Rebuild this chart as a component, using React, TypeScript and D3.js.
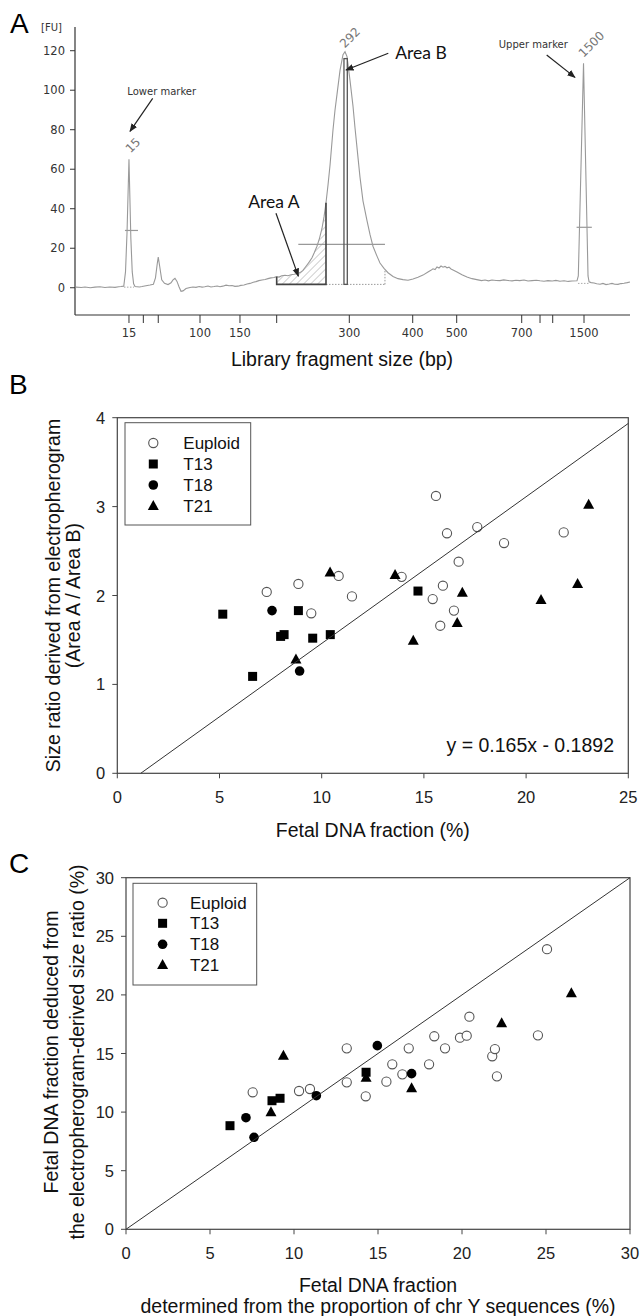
import React from 'react';
import * as d3 from 'd3';

// ---------- Panel A: electropherogram (x in migration time, s) ----------
const ladderBp = [15, 25, 50, 100, 150, 200, 300, 400, 500, 700, 850, 1000, 1500];
const ladderTime = [45.78, 47.85, 50.0, 56.02, 61.78, 67.07, 77.54, 86.68, 93.02, 102.39, 105.03, 106.86, 111.37];
const ladderLabeled = [true, false, false, true, true, false, true, true, true, true, false, false, true];
const fuTicks = [0, 20, 40, 60, 80, 100, 120];

const traceTime = [
  38.14, 38.9, 39.44, 40.2, 40.88, 41.6, 42.32, 43.0, 43.77, 44.3, 44.63, 45.03, 45.28, 45.5, 45.78, 46.05, 46.25, 46.45, 46.65, 46.94,
  47.3, 47.66, 48.23, 48.81, 49.3, 49.6, 49.85, 50.0, 50.2, 50.5, 50.9, 51.41, 51.84, 52.13, 52.41, 52.7, 52.99, 53.28, 53.57, 54.0,
  54.58, 55.0, 55.44, 55.9, 56.31, 56.7, 57.17, 57.6, 58.04, 58.5, 58.9, 59.3, 59.77, 60.2, 60.63, 61.05, 61.5, 61.9, 62.36, 62.8,
  63.23, 63.7, 64.09, 64.5, 64.95, 65.4, 65.82, 66.25, 66.68, 67.07, 67.41, 67.8, 68.27, 68.7, 69.14, 69.6, 70.14, 70.5, 70.86, 71.44,
  71.8, 72.16, 72.5, 72.88, 73.24, 73.6, 73.9, 74.18, 74.47, 74.76, 75.19, 75.48, 75.77, 76.2, 76.63, 76.92, 77.21, 77.64, 78.07, 78.36,
  78.79, 79.08, 79.51, 80.09, 80.52, 80.95, 81.53, 81.96, 82.54, 83.12, 83.84, 84.56, 85.28, 86.0, 86.72, 87.44, 88.16, 88.88, 89.3, 89.6,
  89.9, 90.18, 90.47, 90.76, 91.05, 91.33, 91.62, 91.91, 92.2, 92.49, 93.06, 93.78, 94.5, 95.23, 96.09, 96.6, 97.1, 97.6, 98.11, 98.7,
  99.26, 99.8, 100.41, 101.0, 101.57, 102.1, 102.72, 103.3, 103.88, 104.5, 105.03, 105.6, 106.18, 106.8, 107.33, 107.9, 108.49, 109.1, 109.64, 110.36,
  110.55, 111.3, 111.95, 112.1, 112.4, 112.81, 113.2, 113.68, 114.1, 114.54, 115.0, 115.41, 115.8, 116.27, 116.7, 117.14, 117.6, 118.0,
];
const traceFU = [
  0.3, 0.1, 0.4, 0.0, 0.3, 0.5, 0.1, 0.4, 0.2, 0.5, 0.6, 0.8, 8, 28, 65, 25, 8, 2, 0.6, 0.5,
  0.4, 0.6, 1.0, 1.4, 1.8, 5, 12, 15.5, 11, 4, 2.2, 1.6, 2.5, 4.0, 4.8, 3.2, 0.5, -1.8, -1.6, -0.4,
  0.1, 0.4, 0.2, 0.6, 0.3, 0.5, 0.9, 0.4, 0.6, 0.9, 0.5, 0.8, 1.3, 1.0, 1.1, 0.7, 0.8, 1.2, 1.4, 1.9,
  2.2, 2.8, 3.1, 3.6, 3.9, 4.2, 4.6, 5.0, 5.2, 5.6, 5.4, 6.1, 6.3, 6.1, 6.6, 6.8, 7.2, 7.8, 8.8, 11.5,
  13.2, 15.2, 17.8, 21, 25, 30, 36, 43, 52, 62, 80, 90, 98, 110, 118, 119.5, 117, 105, 92, 81,
  66, 56, 44, 34, 27, 21, 16, 12.5, 9.8, 7.6, 5.7, 4.6, 4.1, 3.8, 4.4, 5.3, 6.4, 8.0, 8.8, 9.6,
  9.2, 10.5, 10.0, 11.0, 10.4, 10.8, 10.1, 10.4, 9.5, 9.0, 8.0, 6.6, 5.4, 4.6, 4.0, 3.6, 3.9, 3.5, 3.9, 3.7,
  3.6, 4.0, 3.7, 3.5, 3.8, 3.6, 3.9, 3.4, 3.6, 3.8, 3.5, 3.3, 3.6, 3.4, 3.7, 3.3, 3.5, 3.2, 3.4, 3.5,
  6, 113.6, 6, 3.0, 2.6, 2.4, 2.0, 1.8, 2.2, 1.6, 1.9, 2.2, 1.8, 1.7, 2.1, 2.3, 2.6, 2.9,
];

// ---------- Panel B: size ratio vs fetal DNA fraction ----------
const bEuploid: [number, number][] = [
  [7.31, 2.04], [8.86, 2.13], [10.83, 2.22], [11.48, 1.99], [9.49, 1.80], [15.59, 3.12], [16.13, 2.70], [17.61, 2.77],
  [18.92, 2.59], [21.84, 2.71], [16.7, 2.38], [13.91, 2.21], [15.93, 2.11], [15.43, 1.96], [16.47, 1.83], [15.8, 1.66],
];
const bT13: [number, number][] = [
  [5.16, 1.79], [8.86, 1.83], [7.99, 1.54], [8.16, 1.56], [9.56, 1.52], [10.42, 1.56], [6.62, 1.09], [14.71, 2.05],
];
const bT18: [number, number][] = [[7.57, 1.83], [8.92, 1.15]];
const bT21: [number, number][] = [
  [10.41, 2.26], [8.74, 1.28], [13.59, 2.23], [16.88, 2.03], [16.63, 1.69], [14.48, 1.49], [20.73, 1.95], [22.52, 2.13], [23.06, 3.02],
];
const bSlope = 0.165;
const bIntercept = -0.1892;
const bXTicks = [0, 5, 10, 15, 20, 25];
const bYTicks = [0, 1, 2, 3, 4];

// ---------- Panel C: deduced vs chrY fetal fraction ----------
const cEuploid: [number, number][] = [
  [7.54, 11.69], [10.3, 11.8], [10.95, 11.97], [13.14, 15.44], [13.14, 12.54], [14.27, 11.35], [15.5, 12.6], [15.85, 14.08],
  [16.45, 13.22], [16.83, 15.44], [18.04, 14.08], [18.35, 16.47], [18.99, 15.44], [19.88, 16.35], [20.28, 16.52], [20.44, 18.14],
  [21.8, 14.76], [21.96, 15.38], [22.08, 13.05], [24.52, 16.55], [25.06, 23.9],
];
const cT13: [number, number][] = [[6.19, 8.84], [8.69, 10.97], [9.17, 11.18], [14.29, 13.4]];
const cT18: [number, number][] = [[7.14, 9.52], [7.62, 7.85], [11.33, 11.4], [14.96, 15.67], [17.0, 13.28]];
const cT21: [number, number][] = [[8.63, 9.98], [9.37, 14.81], [14.29, 12.94], [17.0, 12.03], [22.36, 17.58], [26.51, 20.14]];
const cTicks = [0, 5, 10, 15, 20, 25, 30];

const groups = ['Euploid', 'T13', 'T18', 'T21'];

const SANS = '"Liberation Sans", Arial, sans-serif';
const DV = '"DejaVu Sans", Verdana, sans-serif';

function Marker({ kind, x, y }: { kind: string; x: number; y: number }) {
  if (kind === 'Euploid') return <circle cx={x} cy={y} r={4.6} fill="#fff" stroke="#555" strokeWidth={1.1} />;
  if (kind === 'T13') return <rect x={x - 4.5} y={y - 4.5} width={9} height={9} fill="#000" />;
  if (kind === 'T18') return <circle cx={x} cy={y} r={4.8} fill="#000" />;
  return <path d={`M${x},${y - 6}L${x + 5.5},${y + 4}L${x - 5.5},${y + 4}Z`} fill="#000" />;
}

function Scatter({
  xs, ys, xTicks, yTicks, data, legend,
}: {
  xs: d3.ScaleLinear<number, number>; ys: d3.ScaleLinear<number, number>;
  xTicks: number[]; yTicks: number[]; data: [string, [number, number][]][];
  legend: { x0: number; y0: number; x1: number; y1: number; sx: number; tx: number; rows: number[] };
}) {
  const [x0, x1] = xs.range();
  const [yb, yt] = ys.range();
  return (
    <g>
      <rect x={x0} y={yt} width={x1 - x0} height={yb - yt} fill="none" stroke="#444" strokeWidth={1.2} />
      {xTicks.map((t) => (
        <g key={'x' + t}>
          <line x1={xs(t)} x2={xs(t)} y1={yb} y2={yb + 5} stroke="#444" />
          <text x={xs(t)} y={yb + 30} textAnchor="middle" fontSize={16.5} fontFamily={SANS} fill="#222">{t}</text>
        </g>
      ))}
      {yTicks.map((t) => (
        <g key={'y' + t}>
          <line x1={x0 - 5} x2={x0} y1={ys(t)} y2={ys(t)} stroke="#444" />
          <text x={x0 - 12} y={ys(t) + 6} textAnchor="end" fontSize={16.5} fontFamily={SANS} fill="#222">{t}</text>
        </g>
      ))}
      <rect x={legend.x0} y={legend.y0} width={legend.x1 - legend.x0} height={legend.y1 - legend.y0} fill="#fff" stroke="#555" strokeWidth={1} />
      {groups.map((g, i) => (
        <g key={g}>
          <Marker kind={g} x={legend.sx} y={legend.rows[i]} />
          <text x={legend.tx} y={legend.rows[i] + 6} fontSize={17} fontFamily={SANS} fill="#111">{g}</text>
        </g>
      ))}
      {data.map(([g, pts]) => pts.map((p, i) => <Marker key={g + i} kind={g} x={xs(p[0])} y={ys(p[1])} />))}
    </g>
  );
}

export default function App() {
  // Panel A scales
  const xA = d3.scaleLinear().domain([38, 118]).range([75, 630]);
  const yA = d3.scaleLinear().domain([-13.8, 132]).range([315, 27]);
  const fuAt = d3.scaleLinear().domain(traceTime).range(traceFU);
  const trace = d3.line<number>().x((t) => xA(t)).y((t, i) => yA(traceFU[i]))(traceTime) || '';

  const aStart = 67.07, aEnd = 74.18, baseA = 1.7;
  const areaTimes = [aStart, ...traceTime.filter((t) => t > aStart && t < aEnd), aEnd];
  const areaPath = d3.area<number>().x((t) => xA(t)).y0(yA(baseA)).y1((t) => yA(fuAt(t)))(areaTimes) || '';
  const bL = 76.77, bR = 77.25, bTop = 116;
  const halfEnd = 82.68;

  // Panel B scales
  const xB = d3.scaleLinear().domain([0, 25]).range([117.3, 628.3]);
  const yB = d3.scaleLinear().domain([0, 4]).range([773.3, 417.7]);
  const bX0 = -bIntercept / bSlope;
  // Panel C scales
  const xC = d3.scaleLinear().domain([0, 30]).range([126, 630]);
  const yC = d3.scaleLinear().domain([0, 30]).range([1229.3, 877.7]);

  const arrow = (x1: number, y1: number, x2: number, y2: number, key: string) => (
    <line key={key} x1={xA(x1)} y1={yA(y1)} x2={xA(x2)} y2={yA(y2)} stroke="#222" strokeWidth={1.2} markerEnd="url(#ah)" />
  );

  return (
    <svg width={640} height={1316} style={{ position: 'absolute', left: 0, top: 0, background: '#fff' }}>
      <defs>
        <marker id="ah" viewBox="0 0 10 10" refX="9" refY="5" markerWidth="7" markerHeight="7" orient="auto-start-reverse">
          <path d="M0,1L10,5L0,9Z" fill="#222" />
        </marker>
        <pattern id="hatch" width={5} height={5} patternUnits="userSpaceOnUse" patternTransform="rotate(45)">
          <line x1={0} y1={0} x2={0} y2={5} stroke="#888" strokeWidth={0.8} />
        </pattern>
      </defs>
      <rect width={640} height={1316} fill="#fff" />

      {/* ===== Panel A ===== */}
      <text x={10} y={33} fontSize={28} fontFamily={SANS} fill="#000">A</text>
      <text x={41} y={31} fontSize={10} fontFamily={DV} fill="#333">[FU]</text>
      <line x1={75} x2={75} y1={27} y2={315} stroke="#333" strokeWidth={1.2} />
      <line x1={75} x2={630} y1={315} y2={315} stroke="#333" strokeWidth={1.2} />
      {fuTicks.map((t) => (
        <g key={'fa' + t}>
          <line x1={70} x2={75} y1={yA(t)} y2={yA(t)} stroke="#333" />
          <text x={65} y={yA(t) + 4} textAnchor="end" fontSize={11.5} fontFamily={DV} fill="#333">{t}</text>
        </g>
      ))}
      {ladderBp.map((bp, i) => (
        <g key={'la' + bp}>
          <line x1={xA(ladderTime[i])} x2={xA(ladderTime[i])} y1={315} y2={323} stroke="#333" />
          {ladderLabeled[i] && (
            <text x={xA(ladderTime[i])} y={337} textAnchor="middle" fontSize={11.5} fontFamily={DV} fill="#333">{bp}</text>
          )}
        </g>
      ))}
      <text x={342} y={366} textAnchor="middle" fontSize={19.5} fontFamily={SANS} fill="#111">Library fragment size (bp)</text>

      {/* Area A hatch */}
      <path d={areaPath} fill="url(#hatch)" stroke="none" />
      {/* guides */}
      <line x1={xA(aEnd)} x2={xA(halfEnd)} y1={yA(baseA)} y2={yA(baseA)} stroke="#999" strokeDasharray="1.5,1.5" />
      <line x1={xA(halfEnd)} x2={xA(halfEnd)} y1={yA(baseA)} y2={yA(fuAt(halfEnd))} stroke="#999" strokeDasharray="1.5,1.5" />
      <line x1={xA(70.19)} x2={xA(halfEnd)} y1={yA(22)} y2={yA(22)} stroke="#999" strokeWidth={1.3} />
      <line x1={xA(45.2)} x2={xA(47.08)} y1={yA(29)} y2={yA(29)} stroke="#999" strokeWidth={1.2} />
      <line x1={xA(45.06)} x2={xA(46.5)} y1={yA(0.3)} y2={yA(0.3)} stroke="#aaa" strokeDasharray="1.5,1.5" />
      <line x1={xA(110.3)} x2={xA(112.5)} y1={yA(30.6)} y2={yA(30.6)} stroke="#999" strokeWidth={1.2} />
      <line x1={xA(110.5)} x2={xA(112.2)} y1={yA(2.2)} y2={yA(2.2)} stroke="#aaa" strokeDasharray="1.5,1.5" />

      <path d={trace} fill="none" stroke="#999" strokeWidth={1.1} />

      {/* Area A box */}
      <path
        d={`M${xA(aStart)},${yA(fuAt(aStart))}L${xA(aStart)},${yA(baseA)}L${xA(aEnd)},${yA(baseA)}L${xA(aEnd)},${yA(fuAt(aEnd))}`}
        fill="none" stroke="#444" strokeWidth={1.6}
      />
      {/* Area B */}
      <rect x={xA(bL)} y={yA(bTop)} width={xA(bR) - xA(bL)} height={yA(baseA) - yA(bTop)} fill="none" stroke="#555" strokeWidth={1.3} />

      {/* peak labels */}
      <text transform={`translate(${xA(45.78) + 4},${yA(65) - 14}) rotate(-45)`} textAnchor="middle" dominantBaseline="central" fontSize={12} fontFamily={DV} fill="#777">15</text>
      <text transform={`translate(${xA(76.92) + 5},${yA(119.5) - 14}) rotate(-45)`} textAnchor="middle" dominantBaseline="central" fontSize={12} fontFamily={DV} fill="#777">292</text>
      <text transform={`translate(${xA(111.3) + 8},${yA(113.6) - 19}) rotate(-45)`} textAnchor="middle" dominantBaseline="central" fontSize={12} fontFamily={DV} fill="#777">1500</text>

      {/* annotations */}
      <text x={xA(50.5)} y={yA(99.7) + 4} textAnchor="middle" fontSize={10} fontFamily={DV} fill="#333">Lower marker</text>
      {arrow(49.2, 95.9, 45.93, 79.2, 'a1')}
      <text x={xA(104.06)} y={yA(123.4) + 4} textAnchor="middle" fontSize={10} fontFamily={DV} fill="#333">Upper marker</text>
      {arrow(105.99, 117.8, 110.07, 106.5, 'a2')}
      <text x={xA(66.68)} y={yA(43.5) + 6} textAnchor="middle" fontSize={17.5} fontFamily="Lato, sans-serif" fill="#111">Area A</text>
      {arrow(66.97, 37.7, 70.19, 5.9, 'a3')}
      <text x={xA(87.87)} y={yA(118.7) + 6} textAnchor="middle" fontSize={17.5} fontFamily="Lato, sans-serif" fill="#111">Area B</text>
      {arrow(83.16, 118.7, 77.06, 110.2, 'a4')}

      {/* ===== Panel B ===== */}
      <text x={9} y={394} fontSize={28} fontFamily={SANS} fill="#000">B</text>
      <Scatter
        xs={xB} ys={yB} xTicks={bXTicks} yTicks={bYTicks}
        data={[['Euploid', bEuploid], ['T13', bT13], ['T18', bT18], ['T21', bT21]]}
        legend={{ x0: 125, y0: 422.7, x1: 250.7, y1: 525, sx: 153.3, tx: 183.3, rows: [443, 464, 485, 506] }}
      />
      <line x1={xB(bX0)} y1={yB(0)} x2={xB(25)} y2={yB(bSlope * 25 + bIntercept)} stroke="#333" strokeWidth={1} />
      <text x={614} y={752} textAnchor="end" fontSize={19.5} fontFamily={SANS} fill="#111">y = 0.165x - 0.1892</text>
      <text x={372.8} y={837} textAnchor="middle" fontSize={19.5} fontFamily={SANS} fill="#111">Fetal DNA fraction (%)</text>
      <text transform="translate(53,595.5) rotate(-90)" textAnchor="middle" dominantBaseline="central" fontSize={19.5} fontFamily={SANS} fill="#111">Size ratio derived from electropherogram</text>
      <text transform="translate(73,595.5) rotate(-90)" textAnchor="middle" dominantBaseline="central" fontSize={19.5} fontFamily={SANS} fill="#111">(Area A / Area B)</text>

      {/* ===== Panel C ===== */}
      <text x={9} y={873} fontSize={28} fontFamily={SANS} fill="#000">C</text>
      <Scatter
        xs={xC} ys={yC} xTicks={cTicks} yTicks={cTicks}
        data={[['Euploid', cEuploid], ['T13', cT13], ['T18', cT18], ['T21', cT21]]}
        legend={{ x0: 133, y0: 883.3, x1: 256.7, y1: 985, sx: 162.6, tx: 189.9, rows: [902.7, 923.3, 944.3, 965] }}
      />
      <line x1={xC(0)} y1={yC(0)} x2={xC(30)} y2={yC(30)} stroke="#333" strokeWidth={1} />
      <text x={378} y={1292} textAnchor="middle" fontSize={19.5} fontFamily={SANS} fill="#111">Fetal DNA fraction</text>
      <text x={378} y={1313} textAnchor="middle" fontSize={19.5} fontFamily={SANS} fill="#111">determined from the proportion of chr Y sequences (%)</text>
      <text transform="translate(51,1052) rotate(-90)" textAnchor="middle" dominantBaseline="central" fontSize={19.5} fontFamily={SANS} fill="#111">Fetal DNA fraction deduced from</text>
      <text transform="translate(77,1052) rotate(-90)" textAnchor="middle" dominantBaseline="central" fontSize={19.5} fontFamily={SANS} fill="#111">the electropherogram-derived size ratio (%)</text>
    </svg>
  );
}
